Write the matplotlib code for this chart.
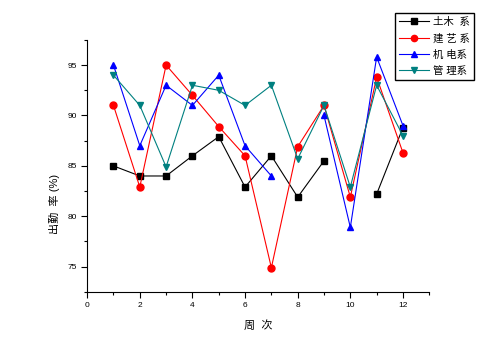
import numpy as np
import matplotlib
matplotlib.use('Agg')
import matplotlib.pyplot as plt
from matplotlib.ticker import MultipleLocator

plt.rcParams['font.family'] = ['Liberation Sans', 'Noto Sans CJK SC', 'DejaVu Sans']

# week numbers and attendance rate (%) per department; nan = no data
weeks = [1, 2, 3, 4, 5, 6, 7, 8, 9, 10, 11, 12]
tumu = [85, 84, 84, 86, 87.9, 82.9, 86, 81.9, 85.5, np.nan, 82.2, 88.8]
jianyi = [91, 82.9, 95, 92, 88.9, 86, 74.9, 86.9, 91, 81.9, 93.8, 86.3]
jidian = [95, 87, 93, 91, 94, 87, 84, np.nan, 90, 78.9, 95.8, 89]
guanli = [94, 91, 84.9, 93, 92.5, 91, 93, 85.7, 91, 82.9, 93, 88]

labels = ['土木  系', '建 艺 系', '机 电系', '管 理系']
series = [tumu, jianyi, jidian, guanli]
colors = ['#000000', '#ff0000', '#0000ff', '#008080']
markers = ['s', 'o', '^', 'v']

fig = plt.figure(figsize=(4.98, 3.5), dpi=100)
ax = fig.add_axes([0.175, 0.166, 0.687, 0.72])

for vals, lab, c, m in zip(series, labels, colors, markers):
    ax.plot(weeks, vals, color=c, marker=m, markersize=5, linewidth=0.8, label=lab)

ax.set_xlim(0, 13)
ax.set_ylim(72.5, 97.5)
ax.xaxis.set_major_locator(MultipleLocator(2))
ax.xaxis.set_minor_locator(MultipleLocator(1))
ax.yaxis.set_minor_locator(MultipleLocator(2.5))
ax.set_yticks([75, 80, 85, 90, 95])
ax.tick_params(which='both', direction='out', labelsize=6, width=0.8)
ax.tick_params(which='major', length=4)
ax.tick_params(which='minor', length=2.5)

ax.spines['top'].set_visible(False)
ax.spines['right'].set_visible(False)

ax.set_xlabel('周  次', fontsize=8, labelpad=8)
ax.set_ylabel('出勤  率 (%)', fontsize=8)
ax.yaxis.set_label_coords(-0.08, 0.35)

fig.legend(loc='upper left', bbox_to_anchor=(0.793, 0.963), fontsize=7.5,
           fancybox=False, edgecolor='black', framealpha=1, borderaxespad=0,
           handlelength=2.9, borderpad=0.4, labelspacing=0.6, handletextpad=0.4,
           markerscale=0.9)

fig.savefig('out.png', dpi=100)
